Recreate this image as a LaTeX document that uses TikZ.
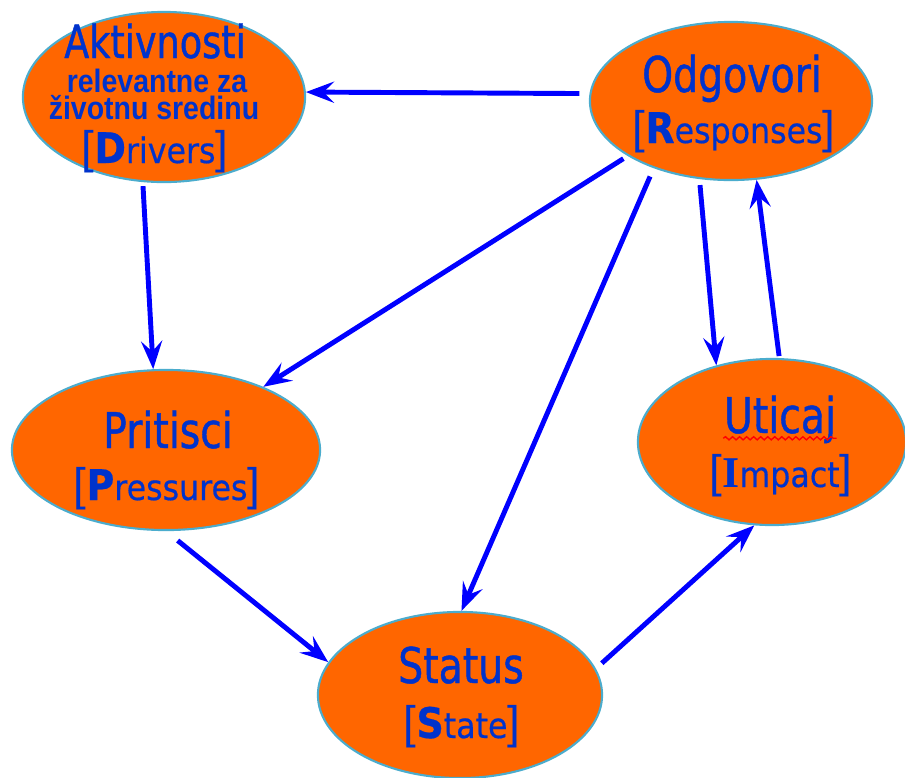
\documentclass[tikz,border=0pt]{standalone}
\usepackage{fontspec}
\usetikzlibrary{shapes.geometric,arrows.meta,decorations.pathmorphing}
\newfontfamily\tfont[FakeStretch=0.8,FakeBold=0.9]{DejaVu Sans}
\newfontfamily\sfont[FakeStretch=0.9,FakeBold=0.5]{DejaVu Sans}
\newfontfamily\nfont[FakeStretch=0.88]{Liberation Sans}
\newfontfamily\brfont{Liberation Sans}
\newfontfamily\ifont{Liberation Serif}
\definecolor{ellfill}{RGB}{255,102,0}
\definecolor{ellborder}{RGB}{75,172,205}
\definecolor{txtblue}{RGB}{0,51,204}
\definecolor{arrblue}{RGB}{0,0,255}
\newcommand\brk[1]{{\brfont\fontsize{13}{15}\selectfont #1}}
\newcommand\bl[1]{{\fontsize{12}{14}\selectfont\bfseries #1}}
\newcommand\blI{{\ifont\fontsize{12.5}{14}\selectfont\bfseries I}}
\tikzset{
  ell/.style={ellipse, draw=ellborder, line width=0.6pt, fill=ellfill, inner sep=0pt},
  arr/.style={draw=arrblue, line width=1.4pt, -{Stealth[length=8pt,width=6pt,inset=3pt]}},
  tl/.style={anchor=base, inner sep=0pt, text=txtblue},
  big/.style={tl, font=\tfont\fontsize{14}{16}\selectfont},
  small/.style={tl, font=\sfont\fontsize{10}{12}\selectfont},
  narrow/.style={tl, font=\nfont\bfseries\fontsize{9.2}{11}\selectfont},
}
\begin{document}
\begin{tikzpicture}[x=0.01cm, y=-0.01cm]
\useasboundingbox (0,0) rectangle (905,778);
% ellipses
\node[ell, minimum width=2.82cm, minimum height=1.70cm] (D) at (164,97) {};
\node[ell, minimum width=2.82cm, minimum height=1.58cm] (R) at (731,101) {};
\node[ell, minimum width=3.08cm, minimum height=1.60cm] (P) at (166,450) {};
\node[ell, minimum width=2.68cm, minimum height=1.66cm] (I) at (772,442) {};
\node[ell, minimum width=2.84cm, minimum height=1.66cm] (S) at (460,695) {};
% texts
\node[big, font=\tfont\fontsize{13}{15}\selectfont, text depth=0pt] (dt1) at (155,58) {Aktivnosti};
\node[narrow, text height=6.5pt] (dt2) at (157,92) {relevantne za};
\node[narrow] (dt3) at (154,119) {životnu sredinu};
\node[small] (dt4) at (155,163) {\brk{[}\bl{D}rivers\brk{]}};
\node[big] (rt1) at (732,92) {Odgovori};
\node[small] (rt2) at (734,143) {\brk{[}\bl{R}esponses\brk{]}};
\node[big] (pt1) at (168,448) {Pritisci};
\node[small] (pt2) at (167,500) {\brk{[}\bl{P}ressures\brk{]}};
\node[big] (ut) at (780,433) {Uticaj};
\node[small] (it2) at (781,487) {\brk{[}\blI mpact\brk{]}};
\node[big] (st1) at (461,683) {Status};
\node[small] (st2) at (462,738) {\brk{[}\bl{S}tate\brk{]}};
\draw[red, line width=0.4pt, decorate, decoration={snake, amplitude=0.45pt, segment length=2pt}]
  ([yshift=-1.5pt]ut.base west) -- ([yshift=-1.5pt]ut.base east);
% arrows
\draw[arr, shorten <=0.1cm] (R.177) -- (D.2);
\draw[arr, shorten <=0.04cm] (D.256) -- (P.99);
\draw[arr, shorten <=0.05cm] (R.208) -- (P.33);
\draw[arr, shorten <=0.09cm] (R.221) -- (S.89);
\draw[arr, shorten <=0.06cm] (R.248) -- (I.126);
\draw[arr, shorten <=0.02cm] (I.85) -- (R.288);
\draw[arr, shorten <=0.15cm] (P.270) -- (S.166);
\draw[arr, shorten <=0.08cm] (S.11) -- (I.258);
\end{tikzpicture}
\end{document}
